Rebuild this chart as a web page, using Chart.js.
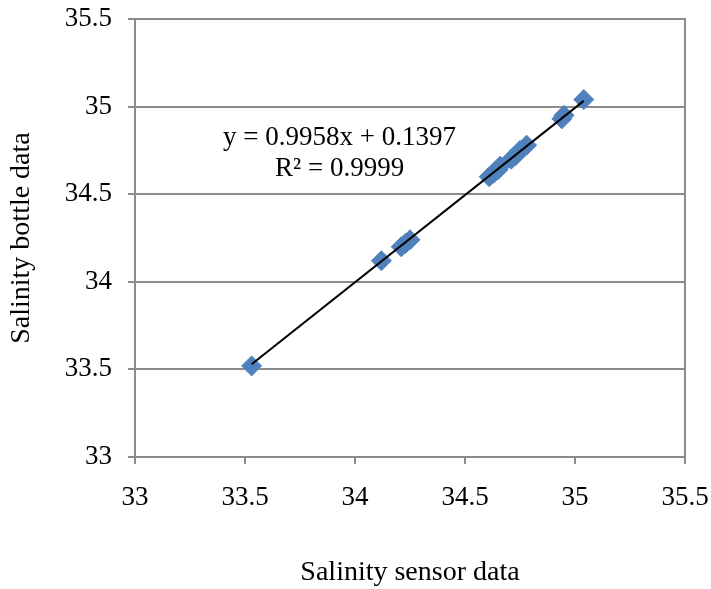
<!DOCTYPE html>
<html>
<head>
<meta charset="utf-8">
<script src="https://cdn.jsdelivr.net/npm/chart.js@4"></script>
<style>
  html, body { margin: 0; padding: 0; background: #fff; }
  #wrap { width: 711px; height: 589px; }
</style>
</head>
<body>
<div id="wrap"><canvas id="myChart" width="711" height="589"></canvas></div>
<script>
// salinity values
var sensorData = [33.53, 34.12, 34.21, 34.23, 34.25, 34.61, 34.63, 34.65, 34.66, 34.71, 34.73, 34.75, 34.78, 34.94, 34.95, 35.04];
var bottleData = [33.52, 34.12, 34.20, 34.22, 34.24, 34.60, 34.62, 34.64, 34.66, 34.70, 34.72, 34.75, 34.78, 34.93, 34.95, 35.04];
var axisTicks = [33, 33.5, 34, 34.5, 35, 35.5];
var slope = 0.9958;
var intercept = 0.1397;
var eqLabels = ['y = 0.9958x + 0.1397', 'R² = 0.9999'];

var points = [];
for (var i = 0; i < sensorData.length; i++) {
    points.push({x: sensorData[i], y: bottleData[i]});
}
var xMin = Math.min.apply(null, sensorData);
var xMax = Math.max.apply(null, sensorData);
var trend = [
    {x: xMin, y: slope * xMin + intercept},
    {x: xMax, y: slope * xMax + intercept}
];

var gray = '#8c8c8c';
var serif = "'Liberation Serif', 'Times New Roman', serif";

// frame round the plot + the trendline equation
var extras = {
    id: 'extras',
    afterDraw: function (chart) {
        var ctx = chart.ctx;
        var a = chart.chartArea;
        ctx.save();
        ctx.strokeStyle = gray;
        ctx.lineWidth = 2;
        ctx.strokeRect(a.left, a.top, a.right - a.left, a.bottom - a.top);
        ctx.fillStyle = '#000';
        ctx.font = '27px ' + serif;
        ctx.textAlign = 'center';
        ctx.textBaseline = 'middle';
        var px = chart.scales.x.getPixelForValue(33.93);
        var py = chart.scales.y.getPixelForValue(34.82);
        ctx.fillText(eqLabels[0], px, py);
        ctx.fillText(eqLabels[1], px, py + 31);
        ctx.restore();
    }
};

function fixedTicks(s) {
    s.ticks = axisTicks.map(function (v) { return {value: v}; });
}

var ctx = document.getElementById('myChart').getContext('2d');
var myChart = new Chart(ctx, {
    type: 'scatter',
    data: {
        datasets: [{
            data: points,
            pointStyle: 'rectRot',
            pointRadius: 10,
            backgroundColor: '#4f81bd',
            borderColor: '#4f81bd',
            borderWidth: 1,
            order: 2
        }, {
            type: 'line',
            data: trend,
            borderColor: '#000',
            borderWidth: 2,
            pointRadius: 0,
            fill: false,
            order: 1
        }]
    },
    options: {
        responsive: false,
        animation: false,
        layout: { padding: { top: 19, right: 26, left: 0, bottom: 0 } },
        plugins: { legend: { display: false }, tooltip: { enabled: false } },
        scales: {
            x: {
                type: 'linear',
                min: 33, max: 35.5,
                afterBuildTicks: fixedTicks,
                afterFit: function (s) { s.height = 132; s.paddingLeft = 0; s.paddingRight = 0; },
                grid: { drawOnChartArea: false, color: gray, lineWidth: 2, tickLength: 7 },
                border: { color: gray, width: 2 },
                ticks: { color: '#000', font: { family: serif, size: 27 }, padding: 18, maxRotation: 0,
                         callback: function (v) { return String(v); } },
                title: { display: true, text: 'Salinity sensor data', color: '#000',
                         font: { family: serif, size: 28 }, padding: { top: 30, bottom: 0 } }
            },
            y: {
                type: 'linear',
                min: 33, max: 35.5,
                afterBuildTicks: fixedTicks,
                afterFit: function (s) { s.width = 135; s.paddingTop = 0; s.paddingBottom = 0; },
                grid: { color: gray, lineWidth: 2, tickLength: 7 },
                border: { color: gray, width: 2 },
                ticks: { color: '#000', font: { family: serif, size: 27 }, padding: 16,
                         callback: function (v) { return String(v); } },
                title: { display: true, text: 'Salinity bottle data', color: '#000',
                         font: { family: serif, size: 28 }, padding: { top: 5, bottom: 0 } }
            }
        }
    },
    plugins: [extras]
});
</script>
</body>
</html>
